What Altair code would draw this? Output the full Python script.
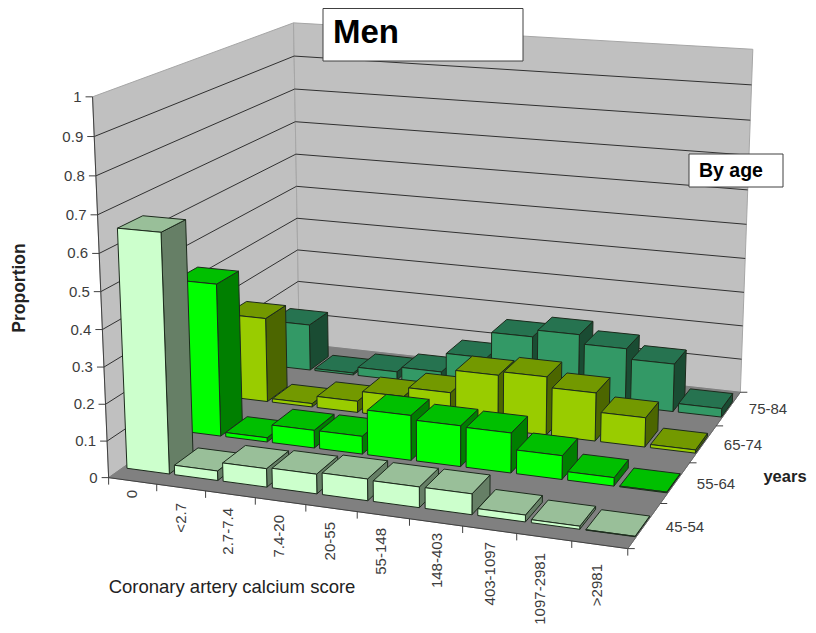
import numpy as np
import pandas as pd
import altair as alt

categories = ["0", "<2.7", "2.7-7.4", "7.4-20", "20-55", "55-148", "148-403", "403-1097", "1097-2981", ">2981"]
ages = ["45-54", "55-64", "65-74", "75-84"]
v45 = [0.648, 0.026, 0.05, 0.053, 0.058, 0.055, 0.055, 0.018, 0.008, 0.001]
v55 = [0.43, 0.012, 0.05, 0.05, 0.125, 0.113, 0.11, 0.065, 0.023, 0.002]
v65 = [0.247, 0.01, 0.033, 0.063, 0.09, 0.156, 0.167, 0.137, 0.083, 0.009]
v75 = [0.14, 0.006, 0.025, 0.04, 0.098, 0.176, 0.197, 0.17, 0.14, 0.025]
series = [v45, v55, v65, v75]
front_colors = ["#ccffcc", "#00ff00", "#99cc00", "#339966"]
top_colors = ["#99bf99", "#00bf00", "#739900", "#267350"]
side_colors = ["#667f66", "#007f00", "#4c6600", "#1a4c33"]
z_ticks = [0, 0.1, 0.2, 0.3, 0.4, 0.5, 0.6, 0.7, 0.8, 0.9, 1]

# camera calibration: (category, row, value) -> page pixel
world = [(0,0,0),(0,0,1),(0,4,1),(10,4,1),(0,4,0),(10,4,0),(10,0,0)]
page = [(108,478),(93,97),(293,23),(753,49),(300,343),(740,393),(628,548)]
A, b = [], []
for (X,Y,Z),(u,v) in zip(world,page):
    A.append([X,Y,Z,1,0,0,0,0,-u*X,-u*Y,-u*Z]); b.append(u)
    A.append([0,0,0,0,X,Y,Z,1,-v*X,-v*Y,-v*Z]); b.append(v)
p = np.linalg.lstsq(np.array(A,float),np.array(b,float),rcond=None)[0]
P = np.append(p,1).reshape(3,4)
def proj(X,Y,Z):
    q = P @ np.array([X,Y,Z,1.0])
    return float(q[0]/q[2]), float(q[1]/q[2])

def add_poly(rows, pts, fill, stroke, sw=1):
    fid = len({r["face"] for r in rows})
    pts = list(pts) + [pts[0]]
    for i,(x,y) in enumerate(pts):
        rows.append(dict(face=fid,i=i,x=x,y=y,fill=fill,stroke=stroke,sw=sw))

back = []
add_poly(back,[proj(0,0,0),proj(0,4,0),proj(0,4,1),proj(0,0,1)],"#c0c0c0","#a6a6a6")
add_poly(back,[proj(0,4,0),proj(10,4,0),proj(10,4,1),proj(0,4,1)],"#c0c0c0","#a6a6a6")
add_poly(back,[proj(0,0,0),proj(10,0,0),proj(10,4,0),proj(0,4,0)],"#808080","#808080")

lines = []
def add_line(a,b,color="#303030",sw=1):
    fid = len(lines)//2
    lines.append(dict(seg=fid,i=0,x=a[0],y=a[1],stroke=color,sw=sw))
    lines.append(dict(seg=fid,i=1,x=b[0],y=b[1],stroke=color,sw=sw))
for z in z_ticks[1:-1]:
    add_line(proj(0,0,z),proj(0,4,z))
    add_line(proj(0,4,z),proj(10,4,z))
add_line(proj(0,0,0),proj(0,0,1),"#404040")
add_line(proj(0,0,0),proj(10,0,0),"#404040")
add_line(proj(10,0,0),proj(10,4,0),"#6a6a6a")
for z in z_ticks:
    s = proj(0,0,z); add_line((s[0]-7,s[1]),s,"#404040")
for c in range(11):
    s = proj(c,0,0); add_line(s,(s[0],s[1]+7),"#404040")
for r in range(5):
    s = proj(10,r,0); add_line(s,(s[0]+7,s[1]),"#404040")

bars = []
U0,U1 = 0.09,0.98
V0,V1 = 0.25,0.70
for r in range(3,-1,-1):
    for c,val in enumerate(series[r]):
        a,b_ = c+U0,c+U1
        f0,f1 = r+V0,r+V1
        add_poly(bars,[proj(b_,f0,0),proj(b_,f1,0),proj(b_,f1,val),proj(b_,f0,val)],side_colors[r],"#1c2a1c")
        add_poly(bars,[proj(a,f0,val),proj(b_,f0,val),proj(b_,f1,val),proj(a,f1,val)],top_colors[r],"#1c2a1c")
        add_poly(bars,[proj(a,f0,0),proj(b_,f0,0),proj(b_,f0,val),proj(a,f0,val)],front_colors[r],"#1c2a1c")

boxes = []
add_poly(boxes,[(323,8.5),(523,8.5),(523,61),(323,61)],"#ffffff","#404040")
add_poly(boxes,[(689,154),(783,154),(783,187),(689,187)],"#ffffff","#404040")

xs = alt.Scale(domain=[8,808],nice=False,zero=False)
ys = alt.Scale(domain=[625,8],nice=False,zero=False)
X = alt.X("x:Q",scale=xs,axis=None)
Y = alt.Y("y:Q",scale=ys,axis=None)

def poly_layer(rows):
    return alt.Chart(pd.DataFrame(rows)).mark_line(strokeJoin="miter",clip=False).encode(
        x=X,y=Y,order="i:Q",detail="face:N",
        fill=alt.Fill("fill:N",scale=None),
        stroke=alt.Stroke("stroke:N",scale=None),
        strokeWidth=alt.StrokeWidth("sw:Q",scale=None))

line_layer = alt.Chart(pd.DataFrame(lines)).mark_line().encode(
    x=X,y=Y,order="i:Q",detail="seg:N",
    stroke=alt.Stroke("stroke:N",scale=None),
    strokeWidth=alt.StrokeWidth("sw:Q",scale=None))

def text_layer(rows,align="center",baseline="middle",angle=0,size=15,weight="normal",color="#3c3c3c"):
    return alt.Chart(pd.DataFrame(rows)).mark_text(align=align,baseline=baseline,angle=angle,fontSize=size,
        fontWeight=weight,font="Liberation Sans",color=color).encode(x=X,y=Y,text="t:N")

z_labels = []
for z in z_ticks:
    s = proj(0,0,z)
    z_labels.append(dict(x=s[0]-11,y=s[1],t=f"{z:g}"))
cat_ends = [490,503,508,515,522,528,533,542,553,564]
cat_x = [132,181,228,279,330,381,437,490,540,597]
cat_labels = [dict(x=x,y=y,t=t) for x,y,t in zip(cat_x,cat_ends,categories)]
age_x = [685,716,743,768]
age_y = [527,484,445,409]
age_labels = [dict(x=x,y=y,t=t) for x,y,t in zip(age_x,age_y,ages)]

chart = alt.layer(
    poly_layer(back),
    line_layer,
    poly_layer(bars),
    poly_layer(boxes),
    text_layer(z_labels,align="right"),
    text_layer(cat_labels,align="right",angle=270),
    text_layer(age_labels),
    text_layer([dict(x=232,y=587,t="Coronary artery calcium score")],size=18.5,color="#222222"),
    text_layer([dict(x=20,y=288,t="Proportion")],angle=270,size=17.5,weight="bold",color="#222222"),
    text_layer([dict(x=785,y=477,t="years")],size=16.5,weight="bold",color="#222222"),
    text_layer([dict(x=333,y=33,t="Men")],align="left",size=33,weight="bold",color="#000000"),
    text_layer([dict(x=699,y=171,t="By age")],align="left",size=19.5,weight="bold",color="#000000"),
).properties(width=800,height=617,padding=0,autosize=alt.AutoSizeParams(type="none")).configure_view(stroke=None)

chart.save("out.html", embed_options={"renderer": "svg", "actions": False})
